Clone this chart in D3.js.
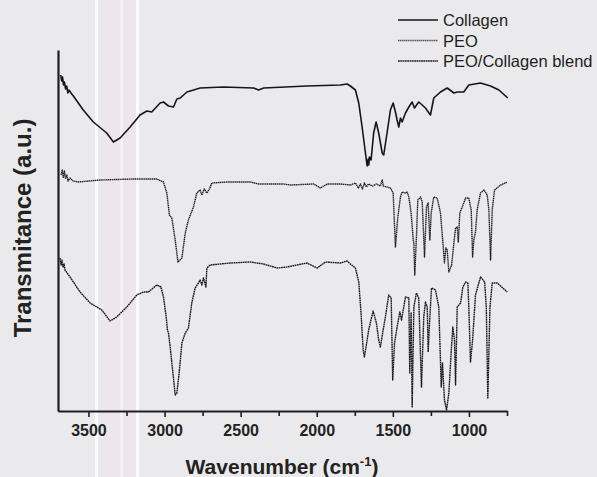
<!DOCTYPE html>
<html>
<head>
<meta charset="utf-8">
<script src="https://cdn.jsdelivr.net/npm/d3@7"></script>
<style>
  html, body { margin: 0; padding: 0; background: #eaeaec; }
  svg { display: block; font-family: Arial, "Liberation Sans", sans-serif; }
</style>
</head>
<body>
<svg width="597" height="477"></svg>
<script>
// spectra: [wavenumber cm-1, transmittance a.u.]
var collagen = [
  [3682, 336], [3676, 330], [3670, 334], [3664, 326], [3658, 329], [3650, 322], [3643, 325],
  [3635, 318], [3628, 321], [3610, 317], [3599, 315], [3534, 301], [3468, 289], [3380, 278],
  [3336, 269], [3292, 273], [3226, 284], [3161, 296], [3116, 300], [3084, 299], [3029, 308],
  [3007, 309], [2974, 305], [2941, 304], [2919, 312], [2897, 313], [2853, 319], [2766, 323],
  [2612, 324], [2415, 323], [2382, 321], [2349, 323], [2064, 325], [1845, 326], [1800, 327],
  [1779, 325], [1746, 321], [1724, 308], [1702, 284], [1680, 258], [1669, 245], [1662, 252],
  [1658, 246], [1654, 254], [1643, 251], [1626, 278], [1610, 289], [1593, 278], [1570, 258],
  [1560, 256], [1538, 278], [1516, 301], [1498, 308], [1483, 299], [1472, 291], [1461, 284],
  [1450, 293], [1439, 289], [1417, 298], [1395, 304], [1373, 309], [1358, 303], [1330, 309],
  [1307, 306], [1286, 303], [1253, 296], [1231, 313], [1209, 316], [1187, 319], [1143, 323],
  [1099, 318], [1077, 319], [1034, 319], [1001, 326], [924, 328], [858, 325], [803, 321], [745, 313]
];

var peo = [
  [3680, 236], [3672, 241], [3665, 233], [3658, 240], [3650, 232], [3642, 236], [3634, 230],
  [3621, 233], [3600, 230], [3566, 229], [3424, 231], [3205, 232], [3051, 232], [3007, 229],
  [2985, 218], [2968, 196], [2952, 193], [2930, 171], [2912, 149], [2886, 153], [2864, 178],
  [2843, 191], [2810, 204], [2788, 218], [2766, 221], [2755, 216], [2739, 222], [2722, 218],
  [2705, 222], [2689, 228], [2590, 229], [2437, 229], [2382, 227], [2218, 227], [2174, 226],
  [2020, 227], [1976, 223], [1932, 227], [1845, 227], [1779, 226], [1746, 228], [1726, 223],
  [1713, 227], [1700, 222], [1687, 228], [1674, 224], [1661, 227], [1634, 225], [1608, 227],
  [1582, 225], [1570, 231], [1562, 225], [1516, 223], [1498, 218], [1483, 164], [1468, 193],
  [1450, 214], [1439, 219], [1417, 218], [1406, 219], [1395, 214], [1380, 198], [1366, 171],
  [1362, 168], [1356, 136], [1345, 174], [1336, 211], [1318, 214], [1307, 209], [1292, 154],
  [1279, 204], [1268, 208], [1257, 171], [1248, 198], [1231, 214], [1209, 213], [1187, 198],
  [1169, 164], [1161, 148], [1152, 163], [1143, 161], [1132, 139], [1114, 146], [1099, 168],
  [1088, 183], [1077, 184], [1070, 169], [1060, 198], [1044, 204], [1022, 213], [1001, 213],
  [985, 201], [976, 154], [968, 171], [957, 179], [946, 201], [924, 218], [901, 221], [880, 216],
  [869, 201], [858, 151], [847, 201], [832, 221], [792, 226], [748, 229]
];

var blend = [
  [3687, 153], [3680, 146], [3674, 151], [3667, 144], [3660, 147], [3654, 141], [3621, 134],
  [3555, 119], [3489, 108], [3412, 101], [3358, 90], [3314, 94], [3248, 104], [3182, 116],
  [3139, 119], [3106, 119], [3051, 126], [3024, 124], [3007, 114], [2989, 94], [2981, 81],
  [2974, 78], [2963, 64], [2945, 38], [2930, 16], [2919, 18], [2904, 38], [2886, 68], [2864, 78],
  [2843, 83], [2821, 108], [2799, 123], [2777, 128], [2766, 131], [2755, 126], [2744, 133],
  [2728, 124], [2722, 143], [2700, 146], [2568, 148], [2437, 149], [2349, 147], [2261, 143],
  [2196, 144], [2064, 148], [1997, 143], [1943, 149], [1845, 148], [1800, 150], [1779, 147],
  [1746, 143], [1724, 129], [1709, 98], [1695, 61], [1687, 54], [1674, 66], [1659, 81],
  [1630, 100], [1608, 88], [1593, 71], [1582, 64], [1567, 78], [1549, 94], [1527, 116],
  [1511, 113], [1501, 31], [1489, 68], [1472, 84], [1454, 99], [1443, 91], [1417, 114],
  [1395, 113], [1389, 38], [1380, 98], [1373, 4], [1362, 104], [1345, 118], [1330, 113],
  [1312, 24], [1297, 94], [1286, 109], [1274, 104], [1268, 59], [1259, 88], [1246, 123],
  [1220, 121], [1198, 104], [1182, 24], [1174, 48], [1161, 11], [1147, 1], [1132, 18],
  [1116, 61], [1106, 84], [1095, 71], [1088, 26], [1077, 104], [1055, 108], [1040, 124],
  [1022, 129], [1007, 128], [1001, 104], [990, 49], [976, 71], [957, 116], [924, 134],
  [897, 129], [886, 104], [876, 13], [862, 104], [847, 128], [814, 128], [748, 119]
];

var seriesNames = ['Collagen', 'PEO', 'PEO/Collagen blend'];
var majorTicks = [3500, 3000, 2500, 2000, 1500, 1000];
var minorTicks = [3250, 2750, 2250, 1750, 1250, 750];

var svg = d3.select("svg");

// scanner streaks in the background
var streaks = [[104, 32, '#ede7eb'], [95, 3, '#fbfbfc'], [120, 3, '#f8eff3'], [136, 3, '#fbfbfc']];
svg.selectAll("rect.streak").data(streaks).enter().append("rect")
  .attr("class", "streak")
  .attr("x", function (d) { return d[0]; })
  .attr("width", function (d) { return d[1]; })
  .attr("y", 0).attr("height", 477)
  .attr("fill", function (d) { return d[2]; });

var x = d3.scaleLinear().domain([3700, 750]).range([58, 507]);
var y = d3.scaleLinear().domain([0, 361]).range([411, 50]);

var styles = [
  { color: '#161616', width: 1.6, dash: null },
  { color: '#222', width: 1.4, dash: '1.4,0.5' },
  { color: '#1c1c1c', width: 1.4, dash: '1.8,0.5' }
];

var line = d3.line()
  .x(function (d) { return x(d[0]); })
  .y(function (d) { return y(d[1]); });

[collagen, peo, blend].forEach(function (s, i) {
  svg.append("path")
    .datum(s)
    .attr("fill", "none")
    .attr("stroke", styles[i].color)
    .attr("stroke-width", styles[i].width)
    .attr("stroke-dasharray", styles[i].dash)
    .attr("stroke-linejoin", "round")
    .attr("d", line);
});

// axes
var xAxis = svg.append("g")
  .attr("transform", "translate(0,411)")
  .call(d3.axisBottom(x).tickValues(majorTicks).tickSize(6).tickSizeOuter(0).tickFormat(d3.format("d")));
xAxis.select(".domain").attr("stroke", "#1e1e1e").attr("stroke-width", 2.2);
xAxis.selectAll(".tick line").attr("stroke", "#1e1e1e").attr("stroke-width", 1.6);
xAxis.selectAll(".tick text")
  .attr("y", 14)
  .attr("fill", "#222")
  .style("font-size", "16px")
  .style("font-weight", "bold");

var xMinor = svg.append("g")
  .attr("transform", "translate(0,411)")
  .call(d3.axisBottom(x).tickValues(minorTicks).tickSize(5).tickSizeOuter(0).tickFormat(""));
xMinor.select(".domain").remove();
xMinor.selectAll(".tick line").attr("stroke", "#1e1e1e").attr("stroke-width", 1.6);

var yAxis = svg.append("g")
  .attr("transform", "translate(58,0)")
  .call(d3.axisLeft(y).tickValues([]).tickSizeOuter(0));
yAxis.select(".domain").attr("stroke", "#1e1e1e").attr("stroke-width", 2.2);

// axis titles
var xt = svg.append("text")
  .attr("x", 282).attr("y", 474)
  .attr("text-anchor", "middle")
  .attr("fill", "#222")
  .style("font-size", "21px")
  .style("font-weight", "bold");
xt.append("tspan").text("Wavenumber (cm");
xt.append("tspan").attr("dy", -8).style("font-size", "13px").text("-1");
xt.append("tspan").attr("dy", 8).text(")");

svg.append("text")
  .attr("transform", "translate(31,228) rotate(-90)")
  .attr("text-anchor", "middle")
  .attr("fill", "#222")
  .style("font-size", "24px")
  .style("font-weight", "bold")
  .text("Transmitance (a.u.)");

// legend
var legend = svg.selectAll("g.legend").data(seriesNames).enter().append("g")
  .attr("class", "legend")
  .attr("transform", function (d, i) { return "translate(398," + (20 + i * 20.5) + ")"; });
legend.append("line")
  .attr("x1", 0).attr("x2", 40).attr("y1", 0).attr("y2", 0)
  .attr("stroke", function (d, i) { return i == 1 ? '#555' : styles[i].color; })
  .attr("stroke-width", 1.4)
  .attr("stroke-dasharray", function (d, i) { return styles[i].dash; });
legend.append("text")
  .attr("x", 45).attr("y", 6)
  .attr("fill", "#1e1e1e")
  .style("font-size", "16.5px")
  .text(function (d) { return d; });
</script>
</body>
</html>
